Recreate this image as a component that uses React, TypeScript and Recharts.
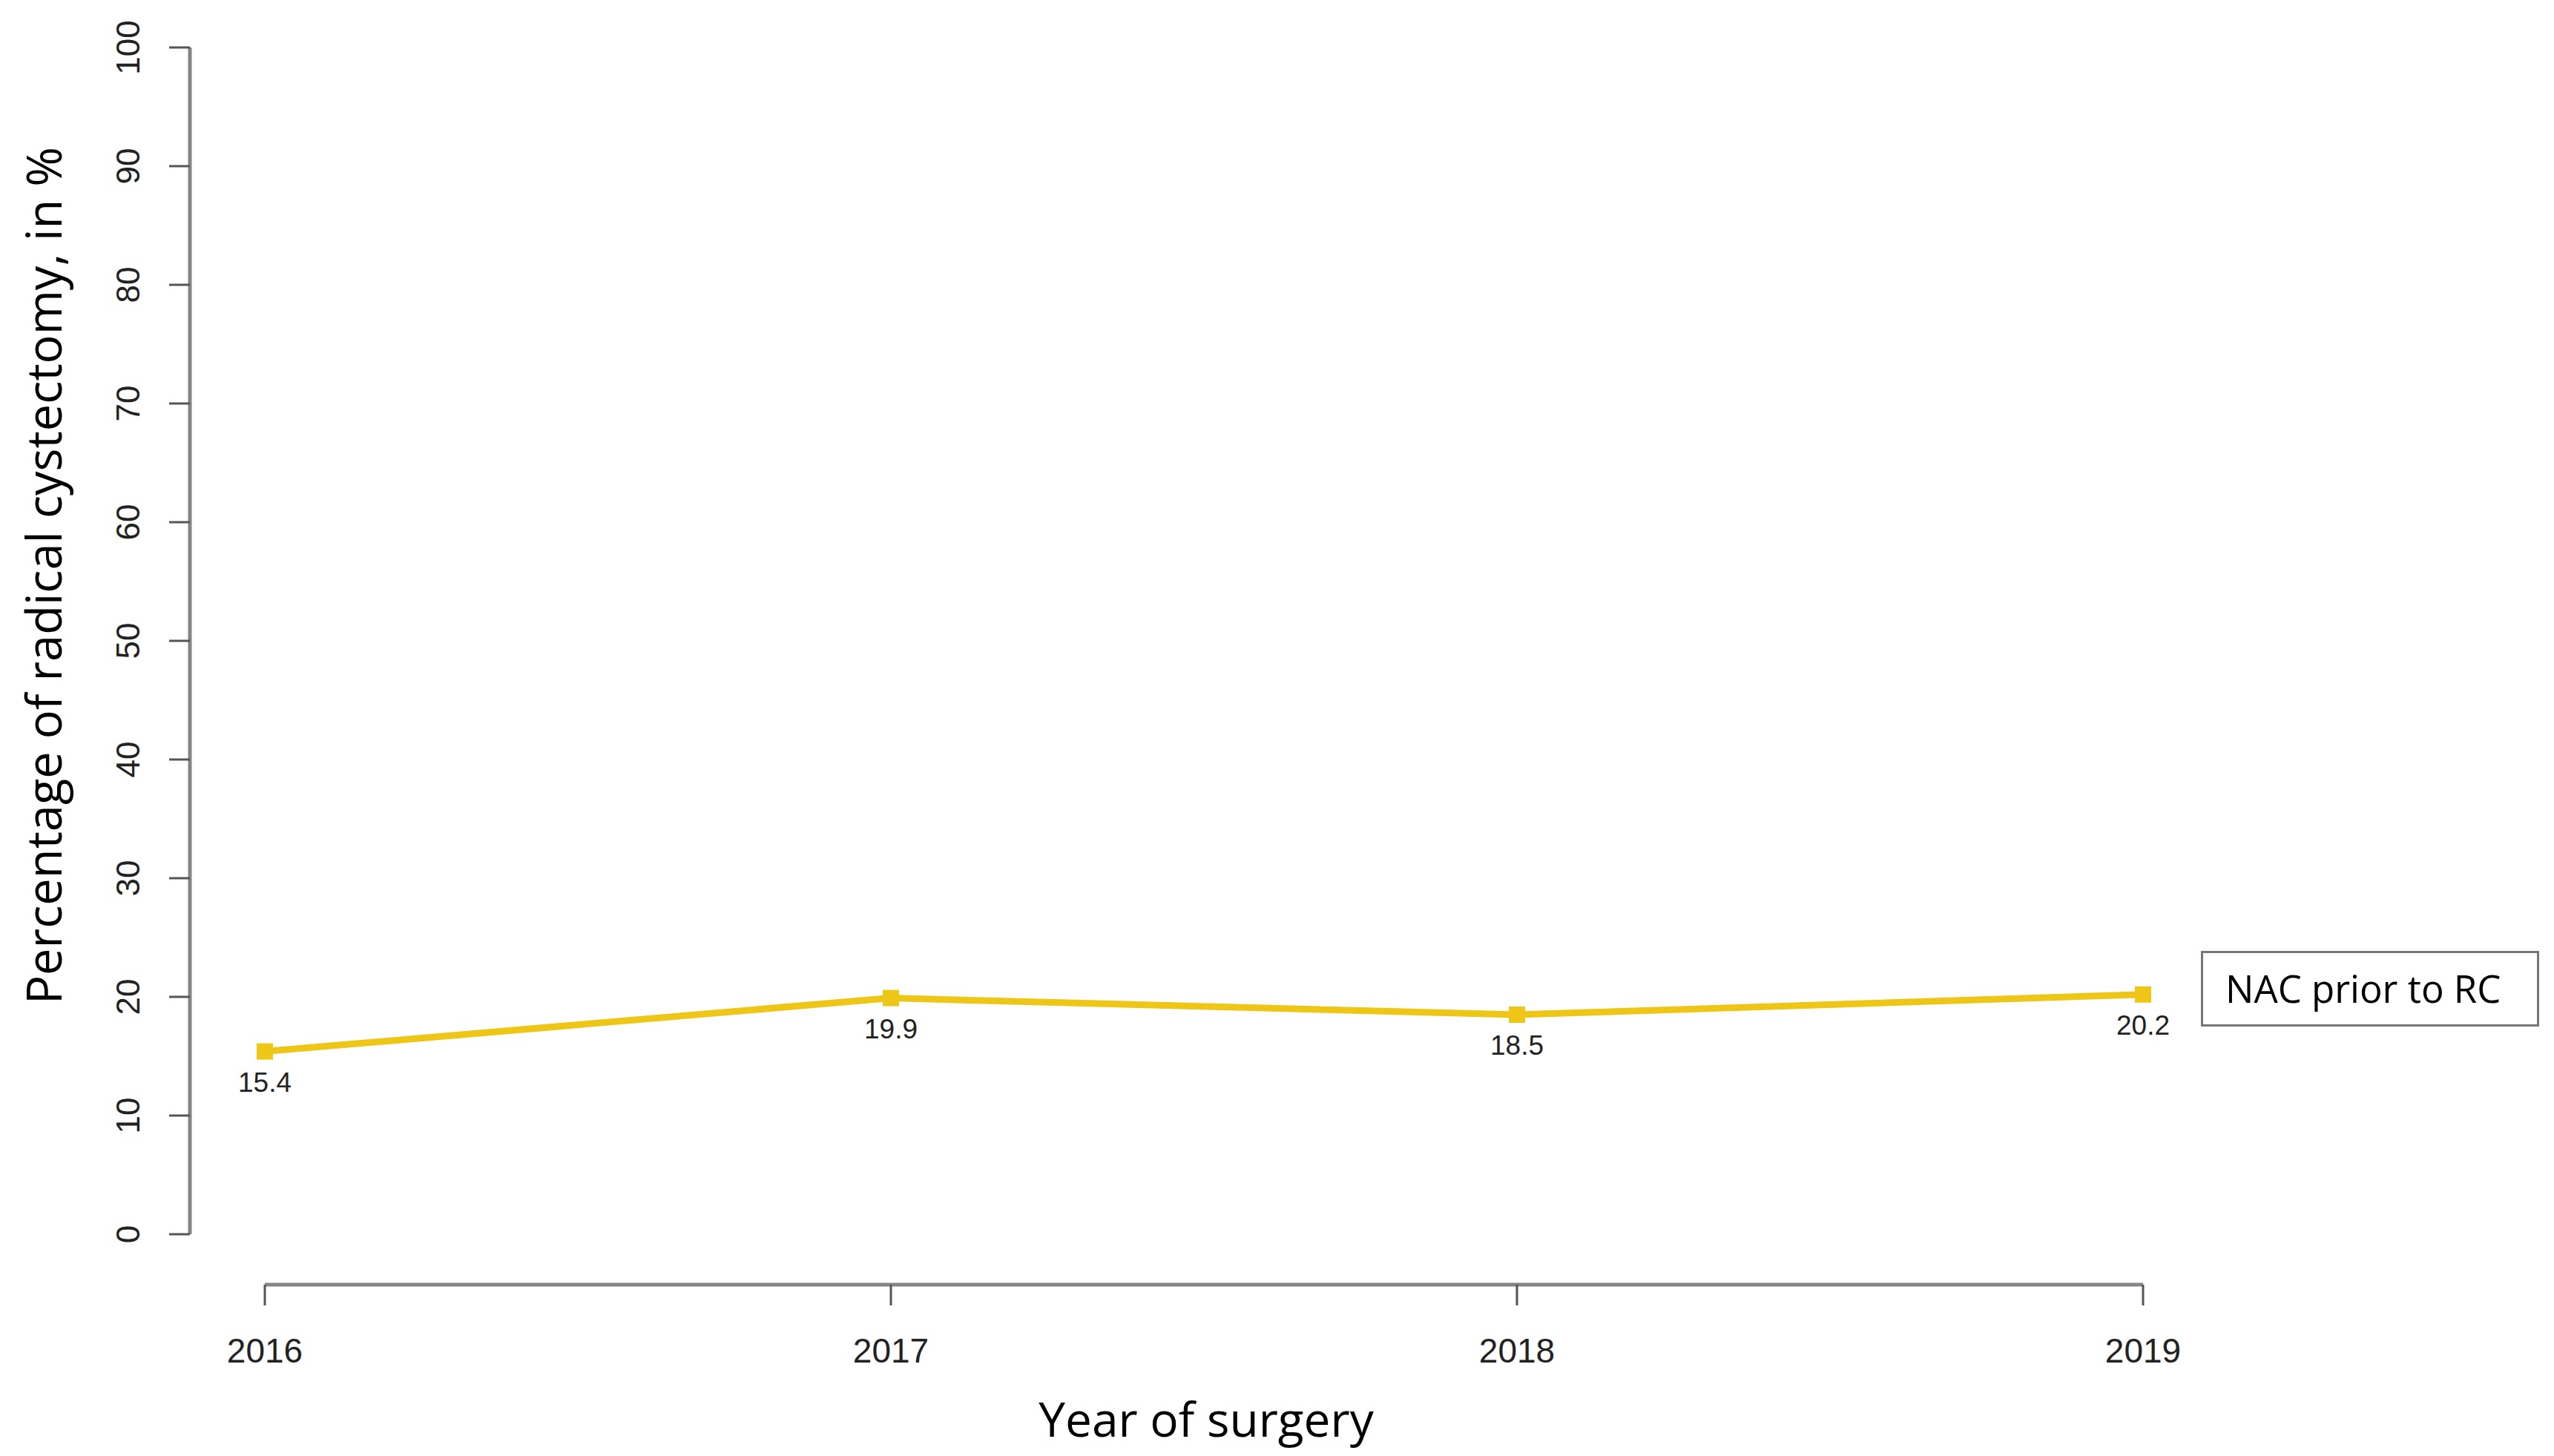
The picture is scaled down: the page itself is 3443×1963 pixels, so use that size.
import React from "react";
import { Legend, Line, LineChart, ReferenceLine, XAxis, YAxis } from "recharts";

const YEARS = [2016, 2017, 2018, 2019];
const NAC_RATE = [15.4, 19.9, 18.5, 20.2];
const Y_TICKS = [0, 10, 20, 30, 40, 50, 60, 70, 80, 90, 100];
const SERIES_NAME = "NAC prior to RC";
const X_TITLE = "Year of surgery";
const Y_TITLE = "Percentage of radical cystectomy, in %";

// R-style detached x axis sits this far below 0, in y units
const X_AXIS_LEVEL = -4.25;

const LINE_COLOR = "#EEC617";
const AXIS_GRAY = "#858585";
const TEXT = "#222222";
const SANS = '"Liberation Sans", Arial, sans-serif';
const TITLE_FONT = '"Open Sans", "Noto Sans", sans-serif';

const data = YEARS.map((year, i) => ({ year, value: NAC_RATE[i] }));

function YTick({ x, y, payload }: any) {
  return (
    <text
      transform={`translate(${x},${y}) rotate(-90)`}
      textAnchor="middle"
      dominantBaseline="central"
      fontFamily={SANS}
      fontSize={44}
      fill={TEXT}
    >
      {payload.value}
    </text>
  );
}

function XTick({ x, y, payload }: any) {
  return (
    <g>
      <line x1={x} x2={x} y1={y + 68} y2={y + 96} stroke="#555" strokeWidth={3} />
      <text x={x} y={y + 173} textAnchor="middle" fontFamily={SANS} fontSize={46} fill={TEXT}>
        {payload.value}
      </text>
    </g>
  );
}

function SquareDot({ cx, cy, index }: any) {
  return <rect key={`dot-${index}`} x={cx - 11} y={cy - 11} width={22} height={22} fill={LINE_COLOR} />;
}

function DataLabel({ x, y, value, index }: any) {
  return (
    <text key={`lbl-${index}`} x={x} y={y + 54} textAnchor="middle" fontFamily={SANS} fontSize={37} fill={TEXT}>
      {value}
    </text>
  );
}

function YTitle({ viewBox }: any) {
  const cx = viewBox.x + 83;
  const cy = viewBox.y + viewBox.height / 2 - 88;
  return (
    <text transform={`translate(${cx},${cy}) rotate(-90)`} textAnchor="middle" fontFamily={TITLE_FONT} fontSize={65} fill="#000">
      {Y_TITLE}
    </text>
  );
}

function XTitle({ viewBox }: any) {
  return (
    <text x={viewBox.x + viewBox.width / 2 + 3} y={viewBox.y + 273} textAnchor="middle" fontFamily={TITLE_FONT} fontSize={64} fill="#000">
      {X_TITLE}
    </text>
  );
}

function LegendBox({ payload }: any) {
  return (
    <div
      style={{
        boxSizing: "border-box",
        width: 456,
        height: 102,
        border: "3px solid #777",
        background: "#fff",
        fontFamily: TITLE_FONT,
        fontSize: 51,
        color: "#000",
        paddingLeft: 30,
        lineHeight: "94px",
        whiteSpace: "nowrap",
      }}
    >
      {(payload || []).map((p: any) => p.value).join("")}
    </div>
  );
}

export default function App() {
  return (
    <div style={{ position: "absolute", left: 0, top: 0, background: "#fff" }}>
      <LineChart width={3443} height={1963} data={data} margin={{ top: 64, right: 453, bottom: 0, left: 0 }}>
        <XAxis
          dataKey="year"
          type="number"
          domain={[YEARS[0], YEARS[YEARS.length - 1]]}
          ticks={YEARS}
          padding={{ left: 101, right: 101 }}
          axisLine={false}
          tickLine={false}
          tickSize={0}
          tickMargin={0}
          height={299}
          tick={<XTick />}
          label={XTitle}
        />
        <YAxis
          domain={[0, 100]}
          ticks={Y_TICKS}
          width={256}
          axisLine={{ stroke: AXIS_GRAY, strokeWidth: 5 }}
          tickLine={{ stroke: "#555", strokeWidth: 3 }}
          tickSize={28}
          tickMargin={56}
          tick={<YTick />}
          label={YTitle}
        />
        <ReferenceLine
          segment={[
            { x: YEARS[0], y: X_AXIS_LEVEL },
            { x: YEARS[YEARS.length - 1], y: X_AXIS_LEVEL },
          ]}
          ifOverflow="visible"
          stroke={AXIS_GRAY}
          strokeWidth={5}
        />
        <Legend
          layout="vertical"
          align="center"
          verticalAlign="middle"
          wrapperStyle={{ left: 2967, top: 1282, width: 456 }}
          content={<LegendBox />}
        />
        <Line
          type="linear"
          dataKey="value"
          name={SERIES_NAME}
          stroke={LINE_COLOR}
          strokeWidth={9}
          dot={SquareDot}
          activeDot={false}
          label={DataLabel}
          isAnimationActive={false}
        />
      </LineChart>
    </div>
  );
}
